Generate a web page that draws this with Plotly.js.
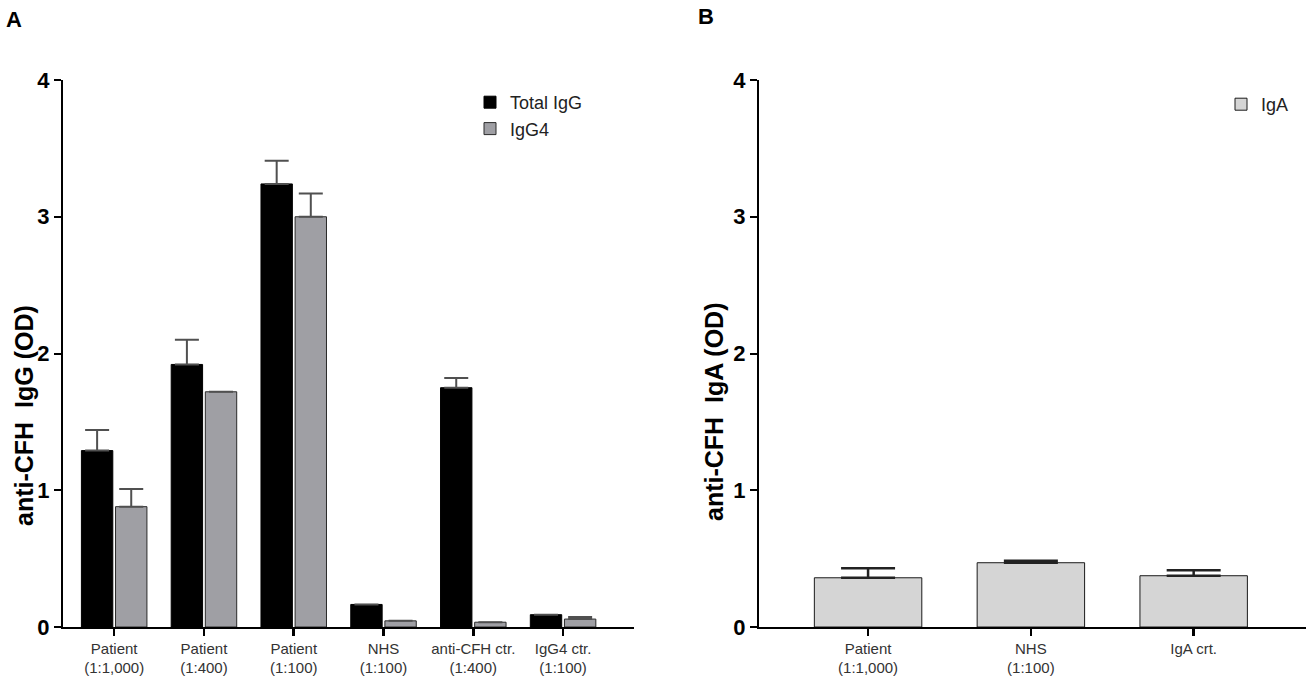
<!DOCTYPE html>
<html>
<head>
<meta charset="utf-8">
<script src="https://cdn.plot.ly/plotly-3.0.1.min.js"></script>
<style>
  html, body { margin: 0; padding: 0; background: #fff; }
  #chart { width: 1308px; height: 678px; }
</style>
</head>
<body>
<div id="chart"></div>
<script>
// ── Panel A data: anti-CFH IgG ────────────────────────────────────────────
const groupsA   = ['p1000', 'p400', 'p100', 'nhs', 'cfhctr', 'igg4ctr'];
const labelsA   = ['Patient<br>(1:1,000)', 'Patient<br>(1:400)', 'Patient<br>(1:100)',
                   'NHS<br>(1:100)', 'anti-CFH ctr.<br>(1:400)', 'IgG4 ctr.<br>(1:100)'];
const totalIgG    = [1.29, 1.92, 3.24, 0.165, 1.75, 0.09];
const totalIgGErr = [0.15, 0.18, 0.17, null, 0.07, null];
const igG4        = [0.88, 1.72, 3.00, 0.045, 0.035, 0.058];
const igG4Err     = [0.13, null, 0.17, null, null, 0.016];

// ── Panel B data: anti-CFH IgA ────────────────────────────────────────────
const groupsB = ['patient', 'nhs', 'igactr'];
const labelsB = ['Patient<br>(1:1,000)', 'NHS<br>(1:100)', 'IgA crt.'];
const igA     = [0.36, 0.47, 0.375];
const igAErr  = [0.07, 0.015, 0.04];

const FONT = 'Arial, "Liberation Sans", sans-serif';

function errBar(arr, color, thick, halfW) {
  return {
    type: 'data', symmetric: false, array: arr, arrayminus: arr.map(() => 0),
    color: color, thickness: thick, width: halfW, visible: true,
  };
}

const traces = [
  {
    type: 'bar', name: 'Total IgG', x: groupsA, y: totalIgG,
    xaxis: 'x', yaxis: 'y', legend: 'legend',
    marker: { color: '#000000', line: { color: '#000000', width: 1 } },
    error_y: errBar(totalIgGErr, '#505050', 2, 12),
  },
  {
    type: 'bar', name: 'IgG4', x: groupsA, y: igG4,
    xaxis: 'x', yaxis: 'y', legend: 'legend',
    marker: { color: '#9f9fa4', line: { color: '#2a2a2a', width: 1 } },
    error_y: errBar(igG4Err, '#505050', 2, 12),
  },
  {
    type: 'bar', name: 'IgA', x: groupsB, y: igA, width: 0.66,
    xaxis: 'x2', yaxis: 'y2', legend: 'legend2',
    marker: { color: '#d5d5d5', line: { color: '#1a1a1a', width: 1 } },
    error_y: errBar(igAErr, '#222222', 2.5, 27),
  },
];

function yAxis(anchor) {
  return {
    anchor: anchor,
    domain: [51 / 678, 598 / 678],
    range: [0, 4],
    tickvals: [0, 1, 2, 3, 4],
    ticks: 'outside', ticklen: 7, tickwidth: 2, tickcolor: '#000',
    showline: true, linecolor: '#000', linewidth: 2,
    showgrid: false, zeroline: false,
    tickfont: { family: FONT, size: 22, color: '#000', weight: 'bold' },
    automargin: false, fixedrange: true,
  };
}

function xAxis(domain, anchor, cats, labels, range) {
  return {
    anchor: anchor,
    domain: domain,
    type: 'category',
    categoryorder: 'array', categoryarray: cats,
    tickvals: cats, ticktext: labels,
    range: range,
    ticks: 'outside', ticklen: 7, tickwidth: 2.5, tickcolor: '#000',
    showline: true, linecolor: '#000', linewidth: 1.5,
    showgrid: false, zeroline: false,
    tickfont: { family: FONT, size: 15, color: '#333' },
    automargin: false, fixedrange: true,
  };
}

function label(text, x, y, size, angle) {
  return {
    text: text, xref: 'paper', yref: 'paper', x: x / 1308, y: 1 - y / 678,
    xanchor: 'center', yanchor: 'middle', showarrow: false, textangle: angle,
    font: { family: FONT, size: size, color: '#000', weight: 'bold' },
  };
}

const layout = {
  width: 1308, height: 678,
  paper_bgcolor: '#ffffff', plot_bgcolor: '#ffffff',
  margin: { l: 0, r: 0, t: 0, b: 0, pad: 0 },
  font: { family: FONT, color: '#000' },
  barmode: 'group',
  bargap: 0.24,
  bargroupgap: 0.08,
  xaxis:  xAxis([63 / 1308, 634 / 1308], 'y', groupsA, labelsA, [-0.57, 5.79]),
  yaxis:  yAxis('x'),
  xaxis2: xAxis([759 / 1308, 1306 / 1308], 'y2', groupsB, labelsB, [-0.67, 2.69]),
  yaxis2: yAxis('x2'),
  legend: {
    x: 470 / 1308, y: 1 - 84 / 678, xanchor: 'left', yanchor: 'top',
    bgcolor: 'rgba(0,0,0,0)', borderwidth: 0,
    font: { family: FONT, size: 18, color: '#222' },
    tracegroupgap: 0, itemwidth: 30,
  },
  legend2: {
    x: 1221 / 1308, y: 1 - 86 / 678, xanchor: 'left', yanchor: 'top',
    bgcolor: 'rgba(0,0,0,0)', borderwidth: 0,
    font: { family: FONT, size: 18, color: '#222' },
    itemwidth: 30,
  },
  annotations: [
    label('A', 14, 20, 22, 0),
    label('B', 706, 17, 22, 0),
    label('anti-CFH  IgG (OD)', 24, 416, 25, -90),
    label('anti-CFH  IgA (OD)', 714, 412, 25, -90),
  ],
  showlegend: true,
};

Plotly.newPlot('chart', traces, layout, { displayModeBar: false, staticPlot: true });
</script>
</body>
</html>
